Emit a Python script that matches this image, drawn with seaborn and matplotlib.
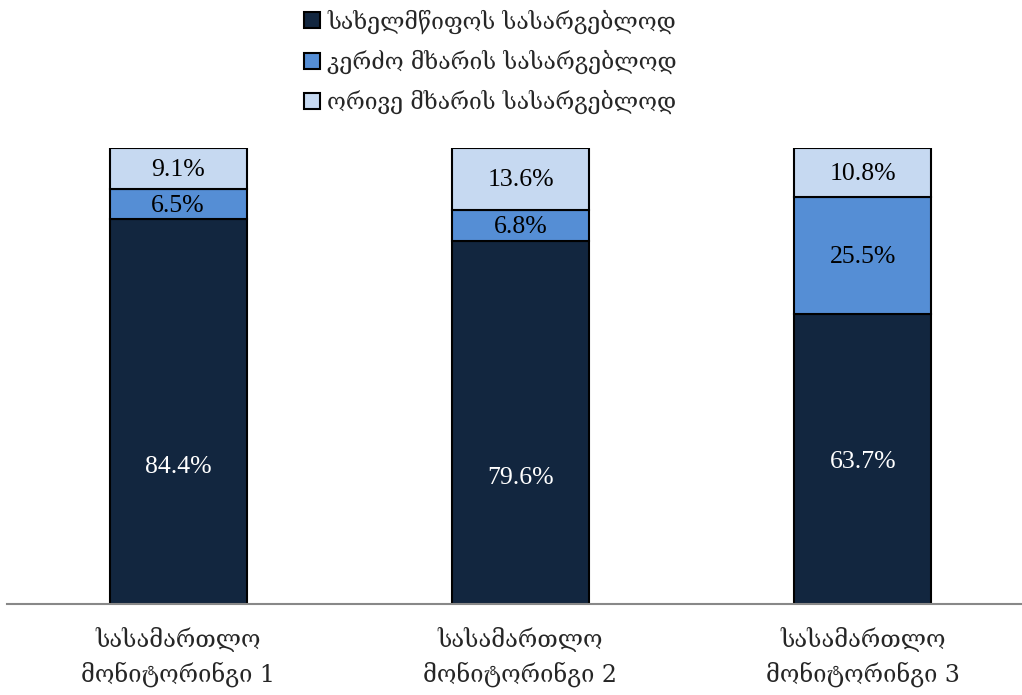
import matplotlib
matplotlib.use("Agg")
import matplotlib.pyplot as plt
import seaborn as sns
import pandas as pd
from matplotlib.patches import Patch

categories = ["სასამართლო\nმონიტორინგი 1", "სასამართლო\nმონიტორინგი 2", "სასამართლო\nმონიტორინგი 3"]
series_names = ["სახელმწიფოს სასარგებლოდ", "კერძო მხარის სასარგებლოდ", "ორივე მხარის სასარგებლოდ"]
state = [84.4, 79.6, 63.7]
private = [6.5, 6.8, 25.5]
both = [9.1, 13.6, 10.8]
state_label_pos = [30.0, 27.6, 31.1]
colors = ["#12263F", "#558ED5", "#C6D9F1"]
label_colors = ["white", "black", "black"]

sns.set_theme(style="white")
plt.rcParams['font.family'] = ['DejaVu Serif', 'DejaVu Sans']

fig = plt.figure(figsize=(10.22, 6.95), dpi=100)
ax = fig.add_axes([7/1022, 91/695, 1015/1022, 456/695])

series = [state, private, both]
bottoms = [0, 0, 0]
for k, (vals, col, lc) in enumerate(zip(series, colors, label_colors)):
    df = pd.DataFrame({"cat": categories, "val": vals})
    n_before = len(ax.patches)
    sns.barplot(data=df, x="cat", y="val", color=col, saturation=1, width=0.4,
                bottom=bottoms, edgecolor="black", linewidth=1.5, ax=ax, errorbar=None)
    for i, p in enumerate(ax.patches[n_before:]):
        if k == 0:
            yc = state_label_pos[i]
        else:
            yc = p.get_y() + p.get_height() / 2 - 0.3
        ax.text(p.get_x() + p.get_width() / 2, yc, f"{vals[i]:.1f}%", ha="center", va="center",
                color=lc, fontsize=18.5, family=['Liberation Serif', 'DejaVu Serif'])
    bottoms = [b + v for b, v in zip(bottoms, vals)]

ax.set_ylim(0, 100)
ax.set_xlim(-0.5, 2.5 - 0.035)
ax.set_xlabel("")
ax.set_ylabel("")
ax.set_yticks([])
for s in ["left", "right", "top"]:
    ax.spines[s].set_visible(False)
ax.spines["bottom"].set_color("#888888")
ax.spines["bottom"].set_linewidth(1.5)
ax.tick_params(axis="x", length=0, pad=16, labelsize=17)
for t in ax.get_xticklabels():
    t.set_linespacing(1.5)

handles = [Patch(facecolor=c, edgecolor="black", linewidth=1.5) for c in colors]
fig.legend(handles, series_names, loc="upper center", bbox_to_anchor=(0.48, 1.0), frameon=False,
           fontsize=16.5, handlelength=0.7, handleheight=0.7, handletextpad=0.3, labelspacing=0.7,
           borderaxespad=0.0)

fig.savefig("out.png", dpi=100)
